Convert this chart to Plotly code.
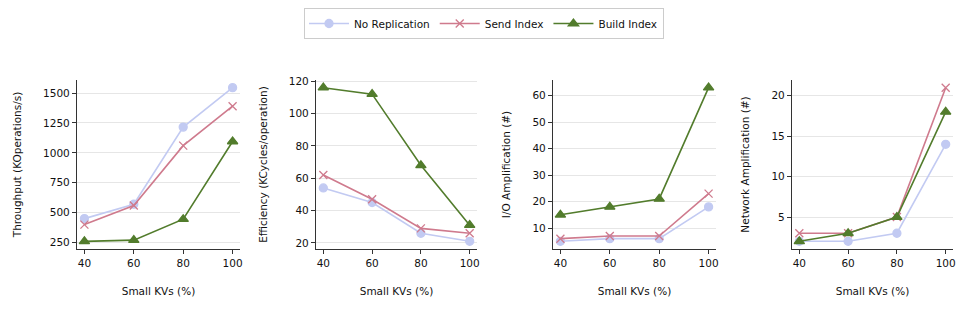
import plotly.graph_objects as go
from plotly.subplots import make_subplots

small_kvs = [40, 60, 80, 100]
series_names = ["No Replication", "Send Index", "Build Index"]

throughput = {
    "No Replication": [450, 570, 1215, 1545],
    "Send Index": [400, 560, 1060, 1390],
    "Build Index": [260, 270, 445, 1095],
}
efficiency = {
    "No Replication": [54, 45, 26, 21],
    "Send Index": [62, 47, 29, 26],
    "Build Index": [116, 112, 68, 31],
}
io_amp = {
    "No Replication": [5, 6, 6, 18],
    "Send Index": [6, 7, 7, 23],
    "Build Index": [15, 18, 21, 63],
}
net_amp = {
    "No Replication": [2, 2, 3, 14],
    "Send Index": [3, 3, 5, 21],
    "Build Index": [2, 3, 5, 18],
}

panels = [
    (throughput, "Throughput (KOperations/s)", [196, 1609], [250, 500, 750, 1000, 1250, 1500]),
    (efficiency, "Efficiency (KCycles/operation)", [16.25, 120.75], [20, 40, 60, 80, 100, 120]),
    (io_amp, "I/O Amplification (#)", [2.1, 65.9], [10, 20, 30, 40, 50, 60]),
    (net_amp, "Network Amplification (#)", [1.05, 21.95], [5, 10, 15, 20]),
]

styles = {
    "No Replication": dict(color="#c2caf2", symbol="circle", size=8),
    "Send Index": dict(color="#cf7a8d", symbol="x-thin-open", size=8),
    "Build Index": dict(color="#527c2c", symbol="triangle-up", size=9),
}

W, H = 969, 323
off = 8  # page body margin
x_px = [(77, 240), (316, 477), (553, 716), (792, 953)]
y_top, y_bot = 80, 249

fig = make_subplots(rows=1, cols=4)

for i, (data, ytitle, yrange, yticks) in enumerate(panels):
    col = i + 1
    for name in series_names:
        s = styles[name]
        fig.add_trace(go.Scatter(
            x=small_kvs, y=data[name], name=name, mode="lines+markers",
            line=dict(color=s["color"], width=1.6),
            marker=dict(symbol=s["symbol"], size=s["size"], color=s["color"],
                        line=dict(color=s["color"], width=1.3)),
            showlegend=(i == 0), legendgroup=name,
        ), row=1, col=col)
    x0, x1 = x_px[i]
    fig.update_xaxes(
        domain=[(x0 - off) / W, (x1 - off) / W], range=[37, 103], tickvals=small_kvs,
        showgrid=False, showline=True, linecolor="#333", linewidth=1.2,
        ticks="outside", ticklen=4, tickcolor="#333", zeroline=False,
        title=dict(text="Small KVs (%)", standoff=19, font=dict(size=10.5)),
        automargin=False, row=1, col=col)
    fig.update_yaxes(
        domain=[1 - (y_bot - off) / H, 1 - (y_top - off) / H], range=yrange, tickvals=yticks,
        showgrid=True, gridcolor="#e6e6e6", gridwidth=1,
        showline=True, linecolor="#333", linewidth=1.2,
        ticks="outside", ticklen=4, tickcolor="#333", zeroline=False,
        title=dict(text=ytitle, standoff=19, font=dict(size=10.5)),
        automargin=False, row=1, col=col)

fig.update_layout(
    width=W, height=H,
    margin=dict(l=0, r=0, t=0, b=0),
    paper_bgcolor="white", plot_bgcolor="white",
    font=dict(family="DejaVu Sans", size=10.5, color="#111"),
    legend=dict(orientation="h", x=(484 - off) / W, xanchor="center", y=1, yanchor="top",
                bordercolor="#cccccc", borderwidth=1, font=dict(size=10.5),
                itemwidth=40, tracegroupgap=0),
)

fig.write_html("out.html")
